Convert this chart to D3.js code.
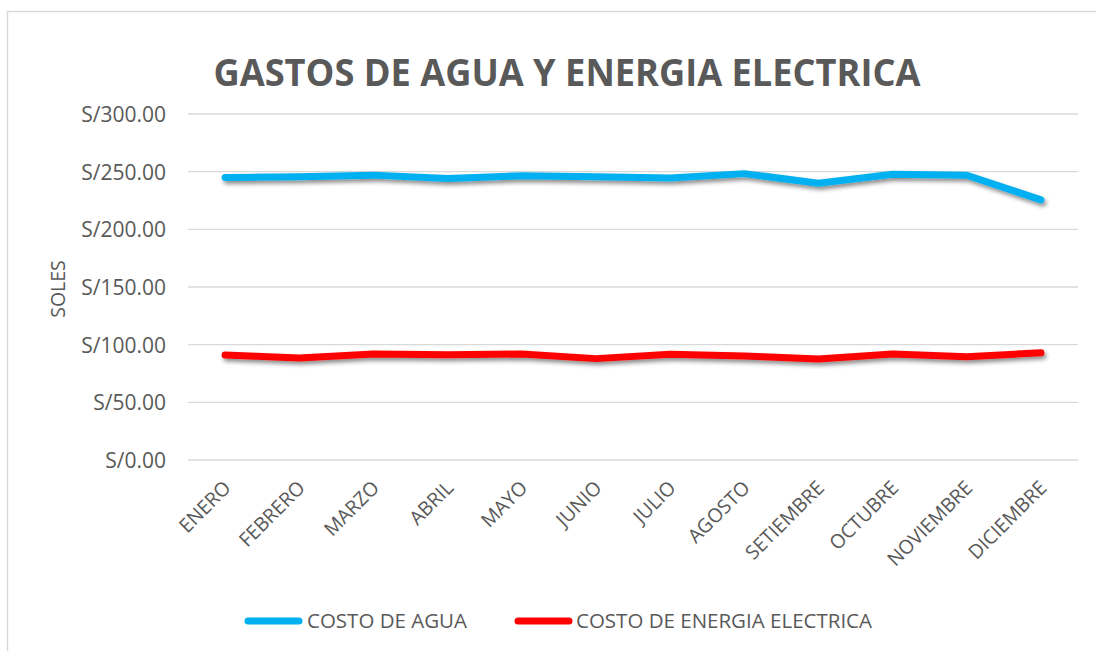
<!DOCTYPE html>
<html><head><meta charset="utf-8">
<script src="https://cdn.jsdelivr.net/npm/d3@7"></script>
<style>body{margin:0;background:#fff;} svg{display:block;}</style>
</head><body>
<script>
const months = ["ENERO","FEBRERO","MARZO","ABRIL","MAYO","JUNIO","JULIO","AGOSTO","SETIEMBRE","OCTUBRE","NOVIEMBRE","DICIEMBRE"];
const agua = [245, 245.5, 247, 244, 246.5, 245.6, 244.5, 248.3, 240, 247.7, 246.9, 225.5];
const energia = [91, 88.4, 91.9, 91.3, 91.9, 87.9, 91.6, 90.2, 87.6, 91.9, 89.6, 93];
const yTicks = [0, 50, 100, 150, 200, 250, 300];
const seriesNames = ["COSTO DE AGUA", "COSTO DE ENERGIA ELECTRICA"];
const seriesColors = ["#00B0F0", "#FF0000"];
const title = "GASTOS DE AGUA Y ENERGIA ELECTRICA";

const W = 1096, H = 651;
const font = "'Open Sans', sans-serif";
const txt = "#595959";
const svg = d3.select("body").append("svg").attr("width", W).attr("height", H);

const defs = svg.append("defs");
const f = defs.append("filter").attr("id","sh").attr("x","-10%").attr("y","-50%").attr("width","120%").attr("height","300%");
f.append("feDropShadow").attr("dx",2).attr("dy",3).attr("stdDeviation",2.2).attr("flood-color","#000").attr("flood-opacity",0.45);

// chart frame
svg.append("rect").attr("x",7.5).attr("y",11.5).attr("width",W+20).attr("height",H+20)
  .attr("fill","#fff").attr("stroke","#d9d9d9").attr("stroke-width",1.5);

const plot = {left:188, right:1078, top:114, bottom:460};
const x = d3.scaleBand().domain(months).range([plot.left, plot.right]);
const y = d3.scaleLinear().domain([0,300]).range([plot.bottom, plot.top]);

// gridlines
svg.append("g").selectAll("line").data(yTicks).join("line")
  .attr("x1",plot.left).attr("x2",plot.right)
  .attr("y1",d=>y(d)).attr("y2",d=>y(d))
  .attr("stroke","#d9d9d9").attr("stroke-width",1.3);

// y axis labels
const yAxis = d3.axisLeft(y).tickValues(yTicks).tickSize(0).tickPadding(0)
  .tickFormat(d => "S/" + d3.format(".2f")(d));
const ga = svg.append("g").attr("transform",`translate(${plot.left-22},0)`).call(yAxis);
ga.select(".domain").remove();
ga.selectAll("text").attr("font-family",font).attr("font-size",21).attr("fill",txt).attr("dy","0.35em");

// x axis labels
const xAxis = d3.axisBottom(x).tickSize(0).tickPadding(0);
const gx = svg.append("g").attr("transform",`translate(0,${plot.bottom})`).call(xAxis);
gx.select(".domain").remove();
gx.selectAll("text").attr("font-family",font).attr("font-size",19.5).attr("fill",txt)
  .attr("text-anchor","end").attr("dy",0).attr("y",0)
  .attr("transform","translate(7,29) rotate(-45)");

// title
svg.append("text").attr("x",567).attr("y",86).attr("text-anchor","middle")
  .attr("font-family",font).attr("font-weight","bold").attr("font-size",37)
  .attr("fill",txt).attr("textLength",707).attr("lengthAdjust","spacingAndGlyphs").text(title);

// y axis title
svg.append("text").attr("transform","translate(65,289) rotate(-90)").attr("text-anchor","middle")
  .attr("font-family",font).attr("font-size",19.5).attr("fill",txt).text("SOLES");

// lines
const line = d3.line().x((d,i)=>x(months[i]) + x.bandwidth()/2).y(d=>y(d));
[agua, energia].forEach((s,i)=>{
  svg.append("path").datum(s).attr("d",line).attr("fill","none")
    .attr("stroke",seriesColors[i]).attr("stroke-width",7)
    .attr("stroke-linecap","round").attr("stroke-linejoin","round")
    .attr("filter","url(#sh)");
});

// legend
const leg = [{x:245, tx:307}, {x:515, tx:576}];
seriesNames.forEach((n,i)=>{
  const g = svg.append("g");
  g.append("line").attr("x1",leg[i].x+3).attr("x2",leg[i].x+54).attr("y1",621).attr("y2",621)
    .attr("stroke",seriesColors[i]).attr("stroke-width",7).attr("stroke-linecap","round");
  g.append("text").attr("x",leg[i].tx).attr("y",621).attr("dy","0.35em")
    .attr("font-family",font).attr("font-size",20.5).attr("fill",txt).text(n);
});
</script>
</body></html>
